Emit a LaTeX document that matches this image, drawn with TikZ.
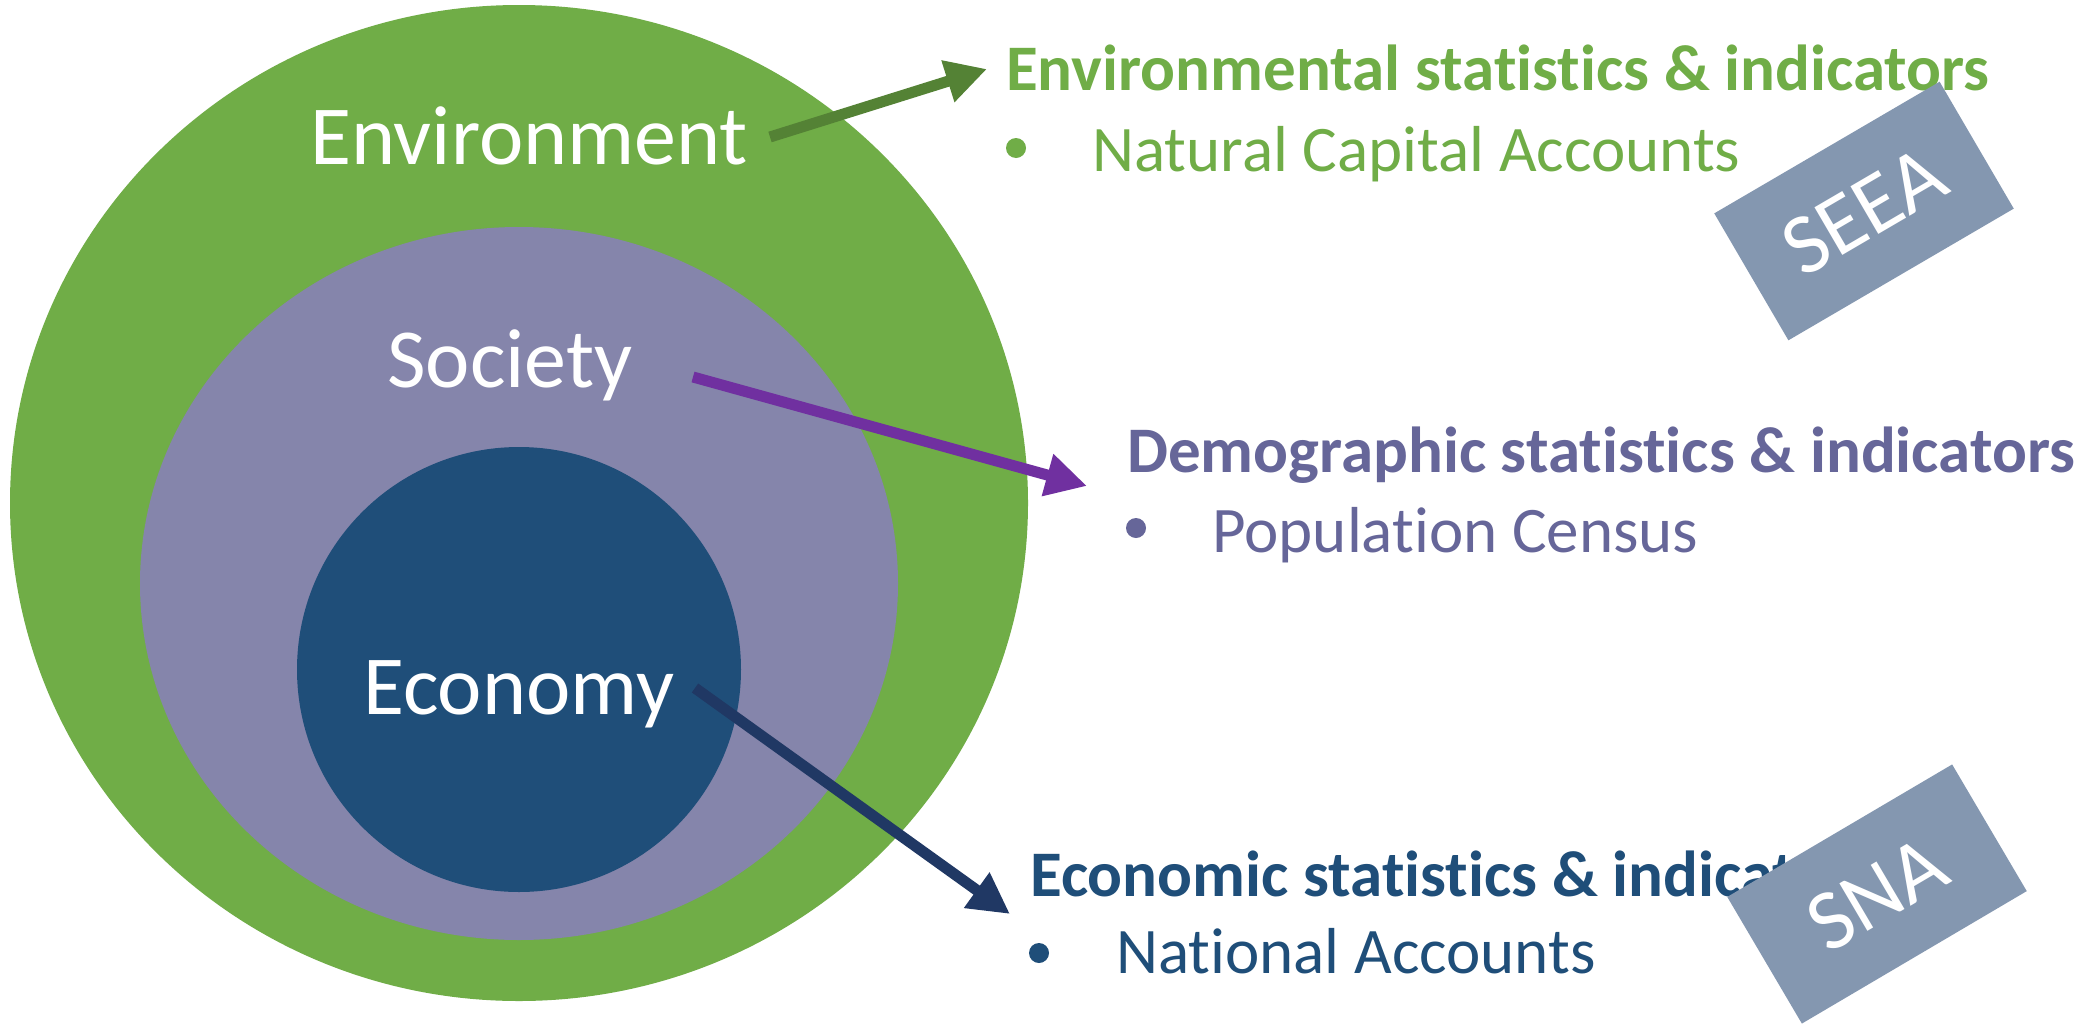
\documentclass[tikz,border=0pt]{standalone}
\usepackage{fontspec}
\setmainfont{Carlito}[Ligatures=NoCommon]
\usetikzlibrary{arrows.meta}
\definecolor{envgreen}{HTML}{70AD47}
\definecolor{socpurple}{HTML}{8585AB}
\definecolor{econblue}{HTML}{1F4E79}
\definecolor{arrgreen}{HTML}{548235}
\definecolor{arrpurple}{HTML}{7030A0}
\definecolor{arrnavy}{HTML}{203864}
\definecolor{demotext}{HTML}{666699}
\definecolor{boxgray}{HTML}{8497B0}
\tikzset{
  biglabel/.style={text=white, inner sep=0pt, anchor=base west, font=\fontsize{84bp}{98bp}\selectfont},
  headline/.style={inner sep=0pt, anchor=base west, font=\fontsize{65bp}{77bp}\selectfont\bfseries},
  itemline/.style={inner sep=0pt, anchor=base west, font=\fontsize{65bp}{77bp}\selectfont},
  bulletdot/.style={circle, inner sep=0pt, minimum size=20bp},
  flowarrow/.style={line width=11bp, -{Triangle[length=41bp, width=41bp]}},
  stdbox/.style={fill=boxgray, text=white, inner sep=0pt, minimum width=261bp, minimum height=147bp, font=\fontsize{86bp}{100bp}\selectfont}
}
\begin{document}
\begin{tikzpicture}[x=1bp, y=-1bp]
\useasboundingbox (0,0) rectangle (2094,1024);
\fill[white] (0,0) rectangle (2094,1024);
% circles
\fill[envgreen] (519,503) ellipse [x radius=509, y radius=498];
\fill[socpurple] (519,583.5) ellipse [x radius=379, y radius=356.5];
\fill[econblue] (519,669.5) ellipse [x radius=222, y radius=222.5];
% labels inside
\node[biglabel] (env) at (310,164) {Environment};
\node[biglabel] (soc) at (387,387) {Society};
\node[biglabel] (eco) at (363,714) {Economy};
% right texts
\node[headline, text=envgreen] (envT) at (1006,90) {Environmental statistics \& indicators};
\node[bulletdot, fill=envgreen] (envB) at (1016,148) {};
\node[itemline, text=envgreen] (envI) at (1092,171) {Natural Capital Accounts};
\node[headline, text=demotext] (demT) at (1127,472) {Demographic statistics \& indicators};
\node[bulletdot, fill=demotext] (demB) at (1136,528) {};
\node[itemline, text=demotext] (demI) at (1212,552) {Population Census};
\node[headline, text=econblue] (ecoT) at (1030,896) {Economic statistics \& indicators};
\node[bulletdot, fill=econblue] (ecoB) at (1039,953) {};
\node[itemline, text=econblue] (ecoI) at (1116,973) {National Accounts};
% arrows
\coordinate (envS) at (770,137);
\coordinate (envE) at (987,69);
\coordinate (socS) at (693,377);
\coordinate (socE) at (1087,486);
\coordinate (ecoS) at (695,688);
\coordinate (ecoE) at (1010,914);
\draw[flowarrow, arrgreen] (envS) -- (envE);
\draw[flowarrow, arrpurple] (socS) -- (socE);
\draw[flowarrow, arrnavy] (ecoS) -- (ecoE);
% boxes
\node[stdbox, rotate=30.3] (seea) at (1864,211) {SEEA};
\node[stdbox, rotate=30.5] (sna) at (1877,894) {SNA};
\end{tikzpicture}
\end{document}
